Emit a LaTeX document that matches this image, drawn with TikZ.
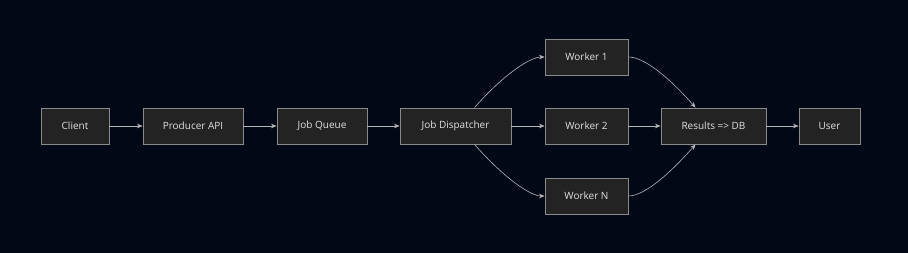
\documentclass[tikz,border=0pt]{standalone}
\usepackage{fontspec}
\setmainfont{Open Sans}
\usetikzlibrary{arrows.meta}
\definecolor{bgc}{HTML}{030817}
\definecolor{boxfill}{HTML}{232323}
\definecolor{boxline}{HTML}{8A8A8A}
\definecolor{edgec}{HTML}{B4B4B8}
\definecolor{txtc}{HTML}{E2E2E2}
\begin{document}
\begin{tikzpicture}[x=1pt,y=-1pt,
  box/.style={draw=boxline, fill=boxfill, line width=0.9pt, minimum height=36pt, inner sep=0pt,
    text=txtc, font=\fontsize{10}{12}\selectfont},
  edge/.style={draw=edgec, line width=0.6pt, -{Stealth[length=5.5pt,width=4.5pt]}}]
\fill[bgc] (0,0) rectangle (908,253);
\useasboundingbox (0,0) rectangle (908,253);
\node[box, minimum width=68pt] (client) at (75,126) {Client};
\node[box, minimum width=100pt] (prod) at (193,126) {Producer API};
\node[box, minimum width=90pt] (queue) at (322,126) {Job Queue};
\node[box, minimum width=111pt] (disp) at (455.5,126) {Job Dispatcher};
\node[box, minimum width=83pt] (w1) at (586.5,57) {Worker 1};
\node[box, minimum width=83pt] (w2) at (586.5,126) {Worker 2};
\node[box, minimum width=83pt] (wn) at (586.5,196) {Worker N};
\node[box, minimum width=105pt] (res) at (713.5,126) {Results => DB};
\node[box, minimum width=61pt] (user) at (829.5,126) {User};
\draw[edge] (client) -- (prod);
\draw[edge] (prod) -- (queue);
\draw[edge] (queue) -- (disp);
\draw[edge] (disp) -- (w2);
\draw[edge] (w2) -- (res);
\draw[edge] (res) -- (user);
\draw[edge] ([xshift=19pt]disp.north) .. controls +(30,-34) and +(-14,0) .. (w1.west);
\draw[edge] ([xshift=19pt]disp.south) .. controls +(30,34) and +(-14,0) .. (wn.west);
\draw[edge] (w1.east) .. controls +(14,0) and +(-30,-34) .. ([xshift=-18pt]res.north);
\draw[edge] (wn.east) .. controls +(14,0) and +(-30,34) .. ([xshift=-18pt]res.south);
\end{tikzpicture}
\end{document}
